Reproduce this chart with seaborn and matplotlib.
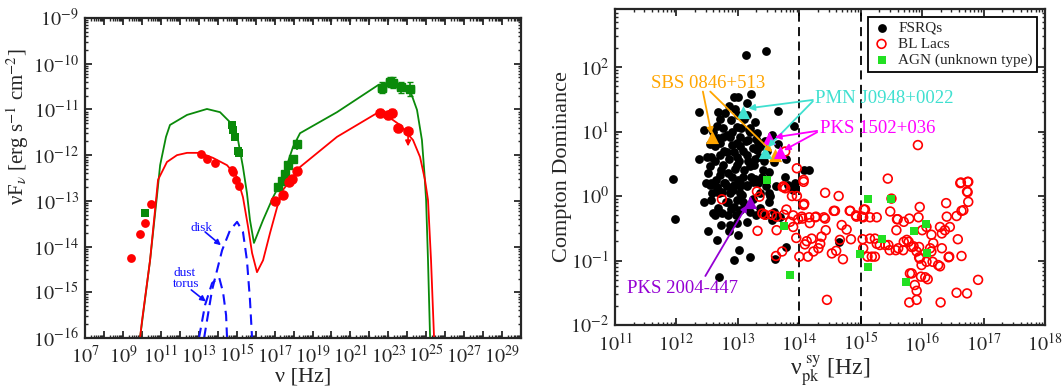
import numpy as np
import matplotlib
matplotlib.use('Agg')
import matplotlib.pyplot as plt
from matplotlib.ticker import LogLocator, FuncFormatter, NullFormatter
import seaborn as sns

# ---------------- left panel: SED, values as log10(nu [Hz]) / log10(nuFnu) ----------------
radio_red_lognu = [9.43, 9.90, 10.16, 10.48]
radio_red_logf = [-14.25, -13.73, -13.49, -13.07]
radio_green_lognu = [10.16]
radio_green_logf = [-13.27]

opt_red_lognu = [13.12, 13.43, 13.86, 14.75, 14.81, 14.96, 15.12]
opt_red_logf = [-11.98, -12.09, -12.17, -12.33, -12.37, -12.54, -12.68]
opt_green_lognu = [14.75, 14.81, 14.91, 15.07, 15.12]
opt_green_logf = [-11.34, -11.45, -11.60, -11.91, -11.95]

xray_green_lognu = [17.18, 17.39, 17.55, 17.71, 17.97, 18.18]
xray_green_logf = [-12.70, -12.57, -12.41, -12.22, -12.09, -11.76]
xray_green_err = [0.05, 0.05, 0.06, 0.06, 0.06, 0.12]
xray_red_lognu = [17.02, 17.44, 17.76, 17.92, 18.18]
xray_red_logf = [-13.00, -12.87, -12.59, -12.52, -12.35]
xray_red_err = [0.08, 0.06, 0.06, 0.06, 0.08]

gam_green_lognu = [22.66, 23.09, 23.24, 23.67, 24.14]
gam_green_logf = [-10.53, -10.40, -10.42, -10.51, -10.55]
gam_green_err = [0.12, 0.12, 0.12, 0.12, 0.15]
gam_red_lognu = [22.56, 22.98, 23.19, 23.51, 24.04]
gam_red_logf = [-11.08, -11.12, -11.08, -11.41, -11.47]
gam_red_err = [0.08, 0.08, 0.08, 0.08, 0.0]
gam_red_ul = [False, False, False, False, True]

model_red_lognu = [9.90, 10.01, 10.43, 10.85, 11.32, 11.85, 12.38, 13.07, 13.75, 14.49, 15.02, 15.33,
                   15.60, 15.81, 16.07, 16.39, 16.76, 17.13, 17.44, 17.97, 18.34, 20.29, 22.40, 22.66,
                   23.61, 24.30, 24.67, 24.93, 25.09, 25.25, 25.41]
model_red_logf = [-16.00, -15.61, -14.30, -12.54, -12.15, -12.00, -11.95, -11.95, -12.06, -12.22, -12.48, -12.92,
                  -13.57, -14.14, -14.56, -14.30, -13.70, -13.14, -12.76, -12.48, -12.26, -11.60, -11.08, -11.06,
                  -11.34, -11.67, -12.04, -12.54, -12.98, -14.30, -16.00]
model_green_lognu = [9.90, 10.43, 10.80, 10.96, 11.27, 11.48, 12.38, 13.43, 14.12, 14.65, 15.07, 15.33,
                     15.54, 15.70, 15.91, 16.39, 16.92, 17.39, 17.97, 18.34, 20.29, 22.45, 22.93, 23.77,
                     24.14, 24.51, 24.77, 24.90, 24.99, 25.09, 25.20]
model_green_logf = [-16.00, -14.30, -12.87, -12.22, -11.60, -11.34, -11.12, -10.99, -11.06, -11.28, -11.67, -12.26,
                    -12.83, -13.42, -13.92, -13.42, -12.92, -12.54, -11.82, -11.52, -11.06, -10.47, -10.42, -10.51,
                    -10.58, -11.01, -11.67, -12.39, -12.98, -14.30, -16.00]
disk_lognu = [13.28, 13.70, 14.23, 14.65, 15.02, 15.33, 15.54, 15.70, 15.81]
disk_logf = [-16.00, -14.95, -14.08, -13.64, -13.46, -13.68, -14.30, -15.17, -16.00]
torus_lognu = [13.01, 13.33, 13.70, 14.07, 14.28, 14.44, 14.49]
torus_logf = [-16.00, -15.28, -14.80, -14.67, -15.00, -15.50, -16.00]

# ---------------- right panel: log10(nu_pk^sy) / log10(Compton dominance) ----------------
fsrq_lognu = [13.46, 13.13, 12.94, 13.00, 13.21, 13.15, 12.36, 13.65, 12.79, 12.71, 12.88, 12.45, 12.66, 12.98,
              13.14, 13.28, 13.31, 13.91, 12.76, 12.87, 13.03, 13.20, 13.17, 13.33, 12.90, 12.71, 12.63, 13.31,
              13.44, 13.03, 12.82, 12.57, 12.71, 12.98, 13.14, 13.28, 12.36, 13.79, 12.55, 12.76, 12.98, 13.20,
              13.41, 11.95, 12.71, 12.90, 13.09, 13.28, 12.57, 12.82, 13.03, 13.77, 14.07, 14.16, 12.52, 12.66,
              12.54, 12.66, 12.79, 12.93, 13.03, 13.14, 13.25, 12.74, 12.87, 13.03, 12.44, 12.57, 12.84, 12.98,
              13.09, 12.68, 12.74, 12.84, 12.93, 13.03, 13.20, 13.36, 13.44, 13.55, 11.98, 12.52, 12.66, 12.87,
              12.98, 13.01, 12.93, 13.20, 12.69, 13.50, 13.58, 13.69, 13.79, 13.60, 13.36, 13.50, 13.93, 13.93,
              13.82, 13.90, 14.65, 12.59,
              12.60, 12.62, 12.65, 12.68, 12.70, 12.72, 12.75, 12.77, 12.78, 12.80, 12.82, 12.84, 12.86, 12.88,
              12.90, 12.92, 12.94, 12.95, 12.97, 12.99, 13.00, 13.02, 13.05, 13.06, 13.08, 13.10, 13.12, 13.13,
              13.15, 13.17, 13.18, 13.22, 13.24, 13.25, 13.27, 13.30, 13.32, 13.34, 13.36, 13.38, 13.40, 13.42,
              13.45, 13.47, 13.50, 12.55, 12.58, 12.50, 12.48, 12.62, 12.72, 12.85, 13.00, 13.15, 13.30, 13.52,
              13.58, 13.62, 13.65, 13.55, 12.68, 12.95, 13.10, 13.00, 12.85, 13.20]
fsrq_logcd = [2.25, 2.18, 1.53, 1.53, 1.58, 1.44, 1.31, 1.32, 1.29, 1.19, 1.18, 1.02, 1.09, 1.07,
              1.26, 1.15, 0.97, 1.09, 0.92, 0.92, 0.92, 1.00, 0.87, 0.84, 0.79, 0.82, 0.77, 0.71,
              0.86, 0.77, 0.69, 0.61, 0.64, 0.61, 0.64, 0.58, 0.58, 0.58, 0.46, 0.48, 0.48, 0.46,
              0.40, 0.26, 0.33, 0.30, 0.30, 0.27, 0.20, 0.15, 0.15, 0.30, 0.40, 0.40, 0.35, 0.12,
              0.17, 0.14, 0.20, 0.17, 0.20, 0.17, 0.22, 0.07, 0.04, 0.04, -0.09, -0.06, -0.09, -0.06,
              -0.09, -0.19, -0.27, -0.29, -0.17, -0.22, -0.24, -0.19, -0.29, -0.37, -0.35, -0.55, -0.68, -0.45,
              -0.42, -0.84, -0.99, -0.95, -1.25, -0.09, -0.24, -0.32, -0.79, -0.97, 0.25, 0.04, 0.20, 0.12,
              0.17, 0.09, -0.71, -0.27,
              1.00, 0.55, 0.25, 0.90, 0.05, 0.40, 1.05, 0.20, 0.70, -0.10, 0.95, 0.35, 0.58, -0.20,
              1.00, 0.10, 0.68, 0.42, -0.30, 0.82, 0.25, 0.55, 1.05, 0.02, 0.70, 0.40, -0.15, 0.85,
              0.15, 0.55, 1.02, 0.30, 0.75, -0.05, 0.48, 0.88, 0.20, 0.60, 0.05, 0.78, 0.30, 0.55,
              0.15, 0.70, 0.38, 0.80, 0.05, 0.60, 0.20, -0.30, -0.45, -0.55, -0.60, -0.40, -0.30, 0.00,
              0.52, 0.15, 0.80, 0.95, 1.30, 1.35, 1.20, 1.25, 1.40, 1.05]

bllac_lognu = [13.77, 13.96, 13.77, 13.96, 14.07, 14.42, 14.64, 15.93, 15.44, 16.63, 16.74, 16.74,
               12.74, 13.32, 13.63, 13.31, 13.35, 13.75, 13.88, 14.07, 13.40, 13.55, 13.63, 13.75,
               13.85, 13.90, 13.98, 14.05, 14.17, 13.95, 14.09, 14.12, 14.00, 14.14, 13.72, 13.62,
               13.73, 14.58, 14.82, 14.93, 15.05, 15.04, 15.15, 15.26, 15.50, 15.96, 15.60, 15.79,
               16.39, 16.62, 16.75, 16.73, 16.75, 16.64, 16.40, 13.79, 13.44, 13.90, 14.04, 14.16,
               14.26, 14.42, 14.20, 14.36, 14.69, 14.77, 14.84, 14.53, 14.60, 14.66, 14.31, 14.34,
               14.23, 15.03, 15.15, 15.23, 15.04, 15.11, 15.18, 15.23, 15.31, 15.45, 15.57, 15.61,
               15.70, 15.75, 15.83, 15.58, 15.95, 15.95, 16.00, 16.07, 16.15, 16.29, 16.32, 16.37,
               16.45, 16.18, 16.32, 16.15, 15.99, 16.07, 16.17, 16.29, 15.98, 15.83, 15.88, 15.91,
               16.58, 16.64, 16.44, 16.56, 16.73, 16.91, 14.45, 15.91, 14.43, 14.08, 14.27, 14.40,
               14.56, 14.83, 14.92, 15.07, 15.02, 15.48, 15.59, 15.70, 15.94, 16.56, 16.67, 14.71,
               15.26, 15.40, 15.47, 15.69, 15.78, 15.86, 15.91, 16.13, 15.96, 16.26, 16.43, 15.80,
               16.05, 16.09, 15.79, 16.30, 13.74, 14.07]
bllac_logcd = [0.69, 0.43, 0.12, 0.00, 0.22, 0.05, 0.00, 0.79, 0.27, 0.21, 0.22, 0.06,
               -0.05, -0.54, -0.53, 0.07, -0.01, 0.14, 0.00, -0.14, -0.27, -0.29, -0.32, -0.29,
               -0.40, -0.30, -0.36, -0.35, -0.42, -0.65, -0.75, -0.70, -0.94, -0.94, -0.86, -0.93,
               0.14, -0.23, -0.23, -0.32, -0.21, -0.33, -0.33, -0.33, -0.04, -0.17, -0.36, -0.35,
               -0.11, 0.20, 0.22, 0.07, -0.09, -0.23, -0.32, -0.21, -0.29, -0.48, -0.32, -0.33,
               -0.33, -0.35, -0.66, -0.63, -0.45, -0.52, -0.67, -0.89, -0.85, -0.68, -0.81, -0.74,
               -0.86, -0.67, -0.66, -0.66, -0.81, -0.94, -0.94, -0.94, -0.76, -0.76, -0.84, -0.81,
               -0.71, -0.68, -0.79, -0.53, -0.79, -0.95, -0.53, -0.48, -0.60, -0.48, -0.58, -0.53,
               -0.48, -0.73, -0.81, -0.86, -1.07, -1.02, -1.02, -1.09, -1.25, -1.20, -1.38, -1.47,
               -0.67, -0.93, -0.94, -1.50, -1.51, -1.30, -1.61, -1.61, -0.53, -0.12, -0.32, -0.33,
               -0.23, -0.23, -0.30, -0.21, -0.32, -0.24, -0.36, -0.40, -0.33, -0.31, -0.22, -0.98,
               -0.74, -0.76, -0.84, -0.84, -0.71, -0.78, -0.86, -0.81, -0.97, -1.07, -0.95, -1.20,
               -1.26, -1.29, -1.65, -1.65, 0.15, 0.25]

agn_lognu = [13.48, 13.75, 13.85, 15.11, 15.50, 15.87, 16.06, 15.35, 14.98, 16.08, 15.11, 15.74]
agn_logcd = [0.25, -0.47, -1.22, -0.05, -0.04, -0.54, -0.43, -0.66, -0.90, -0.89, -1.10, -1.34]

sources = ['SBS 0846+513', 'PMN J0948+0022', 'PKS 1502+036', 'PKS 2004-447']
src_colors = ['#ffa500', '#40e0d0', '#ff00ff', '#9400d3']
src_lognu = [[12.58, 13.60], [13.08, 13.44], [13.51, 13.69], [13.20]]
src_logcd = [[0.915, 0.636], [1.30, 0.68], [0.90, 0.68], [-0.09]]
label_lognu = [11.59, 14.26, 14.34, 11.20]
label_logcd = [1.74, 1.52, 1.05, -1.43]
arrow_from = [[(12.43, 1.62), (12.55, 1.62)], [(14.22, 1.49), (14.22, 1.47)],
              [(14.29, 1.01), (14.29, 0.99)], [(12.47, -1.24)]]
arrow_to = [[(12.57, 0.96), (13.56, 0.68)], [(13.17, 1.36), (13.49, 0.76)],
            [(13.60, 0.91), (13.75, 0.71)], [(13.15, -0.14)]]


def p(a):
    return 10 ** np.asarray(a, dtype=float)


def dex_err(logy, err):
    y = p(logy)
    e = np.asarray(err, dtype=float)
    return [y - y * 10 ** (-e), y * 10 ** e - y]


def pow_label(v, pos):
    return '$10^{%d}$' % round(np.log10(v))


sns.set_style("ticks")
plt.rcParams['font.family'] = ['Liberation Serif', 'DejaVu Serif']
plt.rcParams['mathtext.fontset'] = 'stix'
plt.rcParams['axes.linewidth'] = 1.6
for k in ['xtick', 'ytick']:
    plt.rcParams[k + '.direction'] = 'in'
    plt.rcParams[k + '.major.size'] = 5
    plt.rcParams[k + '.minor.size'] = 2.5
    plt.rcParams[k + '.major.width'] = 1.3
    plt.rcParams[k + '.minor.width'] = 1.0
    plt.rcParams[k + '.labelsize'] = 14.5
plt.rcParams['xtick.major.pad'] = 6
plt.rcParams['ytick.major.pad'] = 4.5
plt.rcParams['xtick.top'] = True
plt.rcParams['ytick.right'] = True

fig = plt.figure(figsize=(10.63, 3.87), dpi=100)
ax1 = fig.add_axes([0.0800, 0.1266, 0.4102, 0.8269])
ax2 = fig.add_axes([0.5786, 0.1602, 0.4045, 0.8165])

# ---- left ----
ax1.set_xscale('log')
ax1.set_yscale('log')
red, green, blue = '#ff0000', '#0a8a0a', '#1010ff'
sns.lineplot(x=p(model_green_lognu), y=p(model_green_logf), sort=False, estimator=None, color=green, lw=1.3, ax=ax1)
sns.lineplot(x=p(model_red_lognu), y=p(model_red_logf), sort=False, estimator=None, color=red, lw=1.3, ax=ax1)
ax1.plot(p(disk_lognu), p(disk_logf), color=blue, lw=1.5, ls=(0, (5, 3)))
ax1.plot(p(torus_lognu), p(torus_logf), color=blue, lw=1.5, ls=(0, (5, 3)))

sns.scatterplot(x=p(radio_red_lognu + opt_red_lognu), y=p(radio_red_logf + opt_red_logf),
                color=red, s=40, linewidth=0, marker='o', ax=ax1, zorder=4)
sns.scatterplot(x=p(radio_green_lognu + opt_green_lognu), y=p(radio_green_logf + opt_green_logf),
                color=green, s=34, linewidth=0, marker='s', ax=ax1, zorder=4)
ax1.errorbar(p(xray_green_lognu), p(xray_green_logf), yerr=dex_err(xray_green_logf, xray_green_err),
             fmt='s', ms=6, color=green, elinewidth=1.2, capsize=0, zorder=4)
ax1.errorbar(p(xray_red_lognu), p(xray_red_logf), yerr=dex_err(xray_red_logf, xray_red_err),
             fmt='o', ms=6.5, color=red, elinewidth=1.2, capsize=0, zorder=4)
ax1.errorbar(p(gam_green_lognu), p(gam_green_logf), yerr=dex_err(gam_green_logf, gam_green_err),
             xerr=dex_err(gam_green_lognu, [0.2] * len(gam_green_lognu)),
             fmt='s', ms=6, color=green, elinewidth=1.2, capsize=2, zorder=4)
ax1.errorbar(p(gam_red_lognu), p(gam_red_logf), yerr=dex_err(gam_red_logf, gam_red_err),
             xerr=dex_err(gam_red_lognu, [0.2] * len(gam_red_lognu)),
             fmt='o', ms=6.5, color=red, elinewidth=1.2, capsize=2, zorder=4)
for lx, ly, ul in zip(gam_red_lognu, gam_red_logf, gam_red_ul):
    if ul:
        ax1.annotate('', xy=(10 ** lx, 10 ** (ly - 0.4)), xytext=(10 ** lx, 10 ** ly),
                     arrowprops=dict(arrowstyle='-|>', color=red, lw=1.2, mutation_scale=8))

ax1.text(10 ** 12.54, 10 ** -13.60, 'disk', color=blue, fontsize=9.5, va='center', ha='left')
ax1.annotate('', xy=(10 ** 14.28, 10 ** -14.01), xytext=(10 ** 13.22, 10 ** -13.64),
             arrowprops=dict(arrowstyle='-|>', color=blue, lw=1.2, mutation_scale=8))
ax1.text(10 ** 11.64, 10 ** -14.70, 'dust\ntorus', color=blue, fontsize=9.5, va='center', ha='left',
         linespacing=0.95)
ax1.annotate('', xy=(10 ** 13.49, 10 ** -15.24), xytext=(10 ** 12.49, 10 ** -14.91),
             arrowprops=dict(arrowstyle='-|>', color=blue, lw=1.2, mutation_scale=8))

ax1.set_xlim(1e7, 1e30)
ax1.set_ylim(1e-16, 1e-9)
ax1.xaxis.set_major_locator(LogLocator(base=10, numticks=40))
ax1.xaxis.set_minor_locator(LogLocator(base=10, subs=np.arange(2, 10), numticks=400))
ax1.xaxis.set_major_formatter(FuncFormatter(
    lambda v, pos: pow_label(v, pos) if round(np.log10(v)) % 2 == 1 else ''))
ax1.xaxis.set_minor_formatter(NullFormatter())
ax1.yaxis.set_major_locator(LogLocator(base=10, numticks=20))
ax1.yaxis.set_minor_locator(LogLocator(base=10, subs=np.arange(2, 10), numticks=200))
ax1.yaxis.set_major_formatter(FuncFormatter(pow_label))
ax1.yaxis.set_minor_formatter(NullFormatter())
ax1.tick_params(axis='x', which='major', pad=5.5)
ax1.set_xlabel('ν [Hz]', fontsize=16)
ax1.set_ylabel(r'νF$_{\nu}$ [erg s$^{-1}$ cm$^{-2}$]', fontsize=15)
ax1.xaxis.set_label_coords(0.5, -0.093)
ax1.yaxis.set_label_coords(-0.125, 0.66)

# ---- right ----
ax2.set_xscale('log')
ax2.set_yscale('log')
ax2.axvline(1e14, color='black', lw=1.3, ls=(0, (5, 3)), zorder=1)
ax2.axvline(1e15, color='black', lw=1.3, ls=(0, (5, 3)), zorder=1)
sns.scatterplot(x=p(fsrq_lognu), y=p(fsrq_logcd), color='black', s=40, linewidth=0, marker='o',
                ax=ax2, label='FSRQs', zorder=2)
sns.scatterplot(x=p(bllac_lognu), y=p(bllac_logcd), facecolors='none', edgecolor='#ff0000', s=40,
                linewidth=1.2, marker='o', ax=ax2, label='BL Lacs', zorder=3)
sns.scatterplot(x=p(agn_lognu), y=p(agn_logcd), color='#22e022', s=36, linewidth=0, marker='s',
                ax=ax2, label='AGN (unknown type)', zorder=4)

for name, c, sx, sy, tx, ty, af, at in zip(sources, src_colors, src_lognu, src_logcd,
                                           label_lognu, label_logcd, arrow_from, arrow_to):
    ax2.scatter(p(sx), p(sy), marker='^', s=90, color=c, linewidth=0, zorder=6)
    for (fx, fy), (tx2, ty2) in zip(af, at):
        ax2.annotate('', xy=(10 ** tx2, 10 ** ty2), xytext=(10 ** fx, 10 ** fy),
                     arrowprops=dict(arrowstyle='-|>', color=c, lw=1.3, mutation_scale=9,
                                     shrinkA=0, shrinkB=0), zorder=7)
    ax2.text(10 ** tx, 10 ** ty, name, color=c, fontsize=13.5, va='center', ha='left', zorder=7)

ax2.set_xlim(1e11, 1e18)
ax2.set_ylim(1e-2, 10 ** 2.9)
ax2.xaxis.set_major_locator(LogLocator(base=10, numticks=20))
ax2.xaxis.set_minor_locator(LogLocator(base=10, subs=np.arange(2, 10), numticks=200))
ax2.xaxis.set_major_formatter(FuncFormatter(pow_label))
ax2.xaxis.set_minor_formatter(NullFormatter())
ax2.yaxis.set_major_locator(LogLocator(base=10, numticks=20))
ax2.yaxis.set_minor_locator(LogLocator(base=10, subs=np.arange(2, 10), numticks=200))
ax2.yaxis.set_major_formatter(FuncFormatter(pow_label))
ax2.yaxis.set_minor_formatter(NullFormatter())
ax2.set_xlabel(r'ν$_{\rm pk}^{\rm \ sy}$ [Hz]', fontsize=17)
ax2.set_ylabel('Compton Dominance', fontsize=16)
ax2.xaxis.set_label_coords(0.5, -0.09)
ax2.yaxis.set_label_coords(-0.10, 0.5)
leg = ax2.legend(loc='upper right', fontsize=11, frameon=True, fancybox=False, edgecolor='black',
                 framealpha=1, borderpad=0.3, handletextpad=0.5, labelspacing=0.15,
                 handlelength=1.2, borderaxespad=0.5)
leg.get_frame().set_linewidth(1.3)

fig.savefig('out.png', dpi=100)
